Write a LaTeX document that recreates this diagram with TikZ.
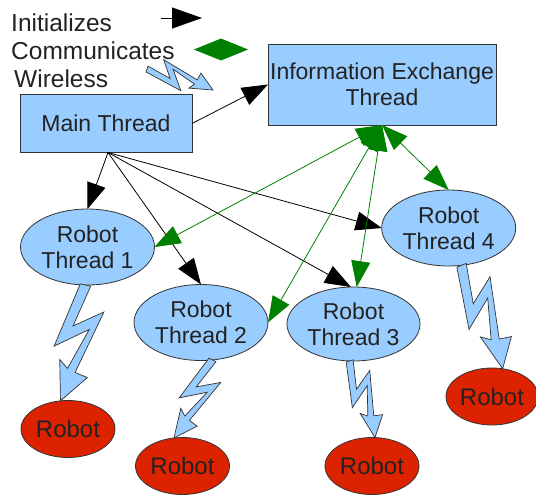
\documentclass[tikz,border=0pt]{standalone}
\usepackage{fontspec}
\setmainfont{Liberation Sans}
\usetikzlibrary{shapes.geometric,arrows.meta,calc}
\definecolor{threadblue}{HTML}{99CCFF}
\definecolor{robotred}{HTML}{DD2200}
\definecolor{commgreen}{HTML}{008000}
\definecolor{textgray}{HTML}{222222}

\tikzset{
  base/.style={draw=black!80, line width=0.8pt, text=textgray, inner sep=0pt, outer sep=0pt,
    align=center, font=\fontsize{23}{26}\selectfont},
  thread/.style={base, ellipse, fill=threadblue, minimum width=134pt, minimum height=76pt},
  robot/.style={base, ellipse, fill=robotred, minimum width=94pt, minimum height=57pt,
    font=\fontsize{24}{27}\selectfont},
  box/.style={base, rectangle, fill=threadblue},
  legendtext/.style={inner sep=0pt, anchor=base west, text=textgray, font=\fontsize{24.5}{27}\selectfont},
  init/.style={draw=black, line width=0.8pt, -{Triangle[length=26pt,width=19pt]}},
  initbig/.style={draw=black, line width=0.8pt, -{Triangle[length=30pt,width=21pt]}},
  comm/.style={draw=commgreen, line width=0.8pt,
    {Triangle[length=26pt,width=19pt]}-{Triangle[length=26pt,width=19pt]}},
  commhalf/.style={draw=commgreen, fill=commgreen, line width=0.8pt, line join=miter},
  wireless/.style={draw=black!80, line width=0.7pt, fill=threadblue, line join=miter},
}

\newcommand\boltshape[2]{%
  \path let \p1=(#1), \p2=(#2) in \pgfextra{%
    \pgfmathsetmacro\bltA{atan2((\y2)-(\y1),(\x2)-(\x1))}%
    \pgfmathsetmacro\bltL{veclen((\x2)-(\x1),(\y2)-(\y1))}%
    \global\let\boltang\bltA \global\let\boltlen\bltL};
  \draw[wireless, shift={(#1)}, rotate=\boltang, x=\boltlen pt, y=\boltlen pt]
    (0,-0.045) -- (0,0.045) -- (0.36,-0.03) -- (0.19,0.2) -- (0.74,0.07) -- (0.76,0.18)
    -- (1,0) -- (0.66,-0.08) -- (0.72,0) -- (0.36,0.11) -- (0.56,-0.15) -- cycle;
}

\begin{document}
\begin{tikzpicture}[x=1pt, y=-1pt]
\useasboundingbox (0,0) rectangle (536,496);

% legend
\node[legendtext] (lg1) at (11,31) {Initializes};
\node[legendtext] (lg2) at (11,59) {Communicates};
\node[legendtext] (lg3) at (14,87) {Wireless};
\coordinate (li1) at (161,18);
\coordinate (li2) at (202,18);
\coordinate (lc1) at (195,49.5);
\coordinate (lcm) at (221,49.5);
\coordinate (lc2) at (247,49.5);
\coordinate (lw1) at (147,69);
\coordinate (lw2) at (213,90);

% boxes
\node[box, minimum width=172pt, minimum height=58pt] (mt) at (106,123.5) {Main Thread};
\node[box, minimum width=228pt, minimum height=81pt] (ie) at (382,84.5) {Information Exchange\\Thread};

% robot threads
\node[thread] (rt1) at (87.5,247) {Robot\\Thread 1};
\node[thread] (rt2) at (201,322.5) {Robot\\Thread 2};
\node[thread, minimum width=133pt, minimum height=74pt] (rt3) at (353.5,324) {Robot\\Thread 3};
\node[thread] (rt4) at (448.7,228) {Robot\\Thread 4};

% robots
\node[robot] (rb1) at (68,429) {Robot};
\node[robot] (rb2) at (182.5,466) {Robot};
\node[robot] (rb3) at (372,466) {Robot};
\node[robot, minimum width=92pt] (rb4) at (492,396.5) {Robot};

% initializes arrows
\coordinate (ms) at (108,152.5);
\draw[initbig] (li1) -- (li2);
\draw[init] (mt.east) -- (ie.west);
\draw[init] (ms) -- (rt1.north);
\draw[init] (ms) -- (rt2.north);
\draw[init] (ms) -- (rt3.94);
\draw[init] (ms) -- (rt4.west);

% communicates arrows
\draw[commhalf] (lc1) -- ($(lcm)+(0,-10.5)$) -- (lc2) -- ($(lcm)+(0,10.5)$) -- cycle;
\draw[comm] (ie.south) -- (rt1.east);
\draw[comm] (ie.south) -- (rt2.east);
\draw[comm] (ie.south) -- (rt3.85);
\draw[comm] (ie.south) -- (rt4.north);

% wireless bolts
\boltshape{lw1}{lw2}
\boltshape{rt1.-93}{rb1.105}
\boltshape{rt2.-73}{rb2.107}
\boltshape{rt3.-96}{rb3.84}
\boltshape{rt4.-71}{rb4.69}
\end{tikzpicture}
\end{document}
